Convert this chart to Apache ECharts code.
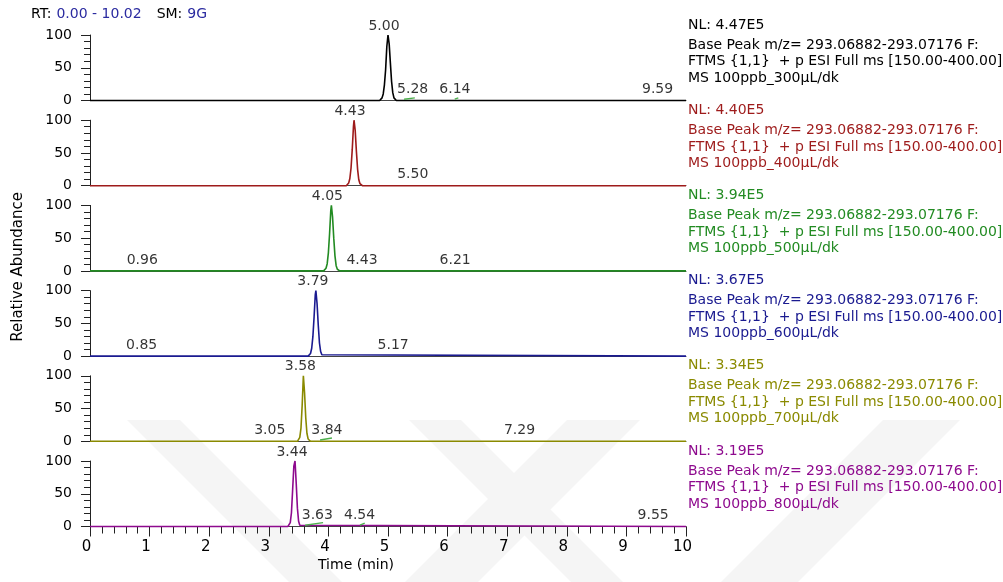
<!DOCTYPE html>
<html>
<head>
<meta charset="utf-8">
<script src="https://cdn.jsdelivr.net/npm/echarts@6/dist/echarts.min.js"></script>
<style>
  html, body { margin: 0; padding: 0; background: #ffffff; }
  #chart { width: 1003px; height: 582px; }
</style>
</head>
<body>
<div id="chart"></div>
<script>
// ---- chromatogram data: retention time (min) vs relative abundance (%) ----
const sampleNames = [
  'MS 100ppb_300µL/dk', 'MS 100ppb_400µL/dk', 'MS 100ppb_500µL/dk',
  'MS 100ppb_600µL/dk', 'MS 100ppb_700µL/dk', 'MS 100ppb_800µL/dk'
];
const nlValues = ['4.47E5', '4.40E5', '3.94E5', '3.67E5', '3.34E5', '3.19E5'];
const filterLines = [
  'Base Peak m/z= 293.06882-293.07176 F:',
  'FTMS {1,1}  + p ESI Full ms [150.00-400.00]'
];
const apexRT = [5.00, 4.43, 4.05, 3.79, 3.58, 3.44];
const minorRT = [
  [5.28, 6.14, 9.59],
  [5.50],
  [0.96, 4.43, 6.21],
  [0.85, 5.17],
  [3.05, 3.84, 7.29],
  [3.63, 4.54, 9.55]
];
const timeTicks = [0, 1, 2, 3, 4, 5, 6, 7, 8, 9, 10];
const abundanceTicks = [0, 50, 100];

const trace300 = [
  [0, 0], [4.86, 0], [4.88, 1], [4.90, 4], [4.92, 10], [4.94, 24], [4.96, 47],
  [4.98, 82], [5.00, 100], [5.02, 86], [5.04, 57], [5.06, 29], [5.08, 12],
  [5.10, 4], [5.12, 1.5], [5.14, 0], [10, 0]
];
const trace400 = [
  [0, 0], [4.30, 0], [4.32, 1], [4.34, 4], [4.36, 11], [4.38, 27], [4.40, 55],
  [4.42, 90], [4.43, 100], [4.45, 84], [4.47, 52], [4.49, 25], [4.51, 9],
  [4.53, 3], [4.55, 1], [4.57, 0], [10, 0]
];
const trace500 = [
  [0, 0], [3.92, 0], [3.94, 1], [3.96, 4], [3.98, 11], [4.00, 28], [4.02, 57],
  [4.04, 92], [4.05, 100], [4.07, 82], [4.09, 50], [4.11, 23], [4.13, 8],
  [4.15, 2.5], [4.17, 1], [4.19, 0], [10, 0]
];
const trace600 = [
  [0, 0], [3.66, 0], [3.68, 1], [3.70, 4], [3.72, 12], [3.74, 30], [3.76, 60],
  [3.78, 94], [3.79, 100], [3.81, 80], [3.83, 47], [3.85, 20], [3.87, 7],
  [3.89, 2], [3.91, 0], [10, 0]
];
const trace700 = [
  [0, 0], [3.48, 0], [3.50, 1.5], [3.52, 6], [3.54, 20], [3.56, 55],
  [3.58, 100], [3.60, 74], [3.62, 36], [3.64, 12], [3.66, 3.5], [3.68, 1],
  [3.70, 0], [10, 0]
];
const trace800 = [
  [0, 0], [3.32, 0], [3.34, 1.5], [3.36, 6], [3.38, 21], [3.40, 56],
  [3.42, 92], [3.44, 100], [3.46, 66], [3.48, 28], [3.50, 8], [3.52, 2],
  [3.54, 0], [10, 0]
];
const traces = [trace300, trace400, trace500, trace600, trace700, trace800];

// small secondary traces drawn in green near the baseline
const sideTraces = [
  [[[5.27, 2], [5.45, 4]], [[6.12, 2], [6.18, 4]]],
  [],
  [],
  [],
  [[[3.86, 2], [4.06, 5]]],
  [[[3.61, 2], [3.91, 6]], [[4.53, 2], [4.61, 5]]]
];

// ---- styling ----
const traceColors = ['#000000', '#9e1b1b', '#228b22', '#1a1a90', '#8a8a00', '#8e0a8e'];
const sideColor = '#4cb04c';
const FONT = 'DejaVu Sans';
const plotLeft = 90, plotWidth = 596, firstTop = 35, panelStep = 85.2, panelHeight = 65.5;
const apexShift = [-4, -4, -4, -3, -3, -3];
const minorShift = [[8, -1, -4], [-5], [-5, 8, -5], [1, -5], [-2, 8, -5], [11, -1, -6]];

const chart = echarts.init(document.getElementById('chart'), null, { renderer: 'canvas' });

const grids = [], xAxes = [], yAxes = [], series = [], graphics = [];

// faint diagonal background bands behind the lower panels
const bandFill = '#f5f5f5';
[
  [[127, 420], [180, 420], [342, 582], [289, 582]],
  [[409, 420], [461, 420], [623, 582], [571, 582]],
  [[567, 420], [640, 420], [478, 582], [405, 582]],
  [[883, 420], [960, 420], [798, 582], [721, 582]]
].forEach(pts => {
  graphics.push({ type: 'polygon', silent: true, z: -10, shape: { points: pts }, style: { fill: bandFill } });
});

traces.forEach((trace, i) => {
  const top = firstTop + i * panelStep;
  const last = i === traces.length - 1;
  const color = traceColors[i];
  grids.push({ left: plotLeft, width: plotWidth, top: top, height: panelHeight });

  xAxes.push({
    gridIndex: i, type: 'value', min: timeTicks[0], max: timeTicks[timeTicks.length - 1], interval: 1,
    axisLine: { show: true, onZero: false, lineStyle: { color: '#444', width: 1 } },
    axisTick: { show: last, length: 10, lineStyle: { color: '#222' } },
    minorTick: { show: last, splitNumber: 5, length: 7, lineStyle: { color: '#222' } },
    axisLabel: { show: last, margin: 13, color: '#000', fontFamily: FONT, fontSize: 15, padding: [0, 7, 0, 0] },
    splitLine: { show: false }
  });

  yAxes.push({
    gridIndex: i, type: 'value', min: abundanceTicks[0], max: abundanceTicks[abundanceTicks.length - 1], interval: 50,
    axisLine: { show: true, lineStyle: { color: '#222', width: 1 } },
    axisTick: { show: true, length: 9, lineStyle: { color: '#222' } },
    minorTick: { show: true, splitNumber: 5, length: 6, lineStyle: { color: '#222' } },
    axisLabel: { margin: 18, color: '#000', fontFamily: FONT, fontSize: 14 },
    splitLine: { show: false }
  });

  series.push({
    type: 'line', xAxisIndex: i, yAxisIndex: i, data: trace, showSymbol: false,
    lineStyle: { color: color, width: 1.6 }, z: 5, silent: true, clip: false
  });

  sideTraces[i].forEach(seg => {
    series.push({
      type: 'line', xAxisIndex: i, yAxisIndex: i, data: seg, showSymbol: false,
      lineStyle: { color: sideColor, width: 1.4 }, z: 6, silent: true
    });
  });

  // retention-time labels
  const labelData = [{
    value: [apexRT[i], 100],
    label: { offset: [apexShift[i], 0], distance: 2 }
  }];
  minorRT[i].forEach((rt, k) => {
    labelData.push({ value: [rt, 0], label: { offset: [minorShift[i][k], 0], distance: 4 } });
  });
  series.push({
    type: 'scatter', xAxisIndex: i, yAxisIndex: i, data: labelData, symbolSize: 0, z: 7, silent: true,
    label: {
      show: true, position: 'top', color: '#000', fontFamily: FONT, fontSize: 14,
      formatter: p => p.value[0].toFixed(2)
    }
  });

  // header block to the right of each trace
  const textX = 688;
  const lines = ['NL: ' + nlValues[i], filterLines[0], filterLines[1], sampleNames[i]];
  const offsets = [-9, 11, 27.7, 44];
  lines.forEach((t, k) => {
    graphics.push({
      type: 'text', left: textX, top: top + offsets[k] - 8, silent: true,
      style: { text: t, fill: color, fontFamily: FONT, fontSize: 14 }
    });
  });
});

graphics.push({
  type: 'text', silent: true, left: 11, top: 192, rotation: Math.PI / 2,
  style: { text: 'Relative Abundance', fill: '#000', fontFamily: FONT, fontSize: 15 }
});
graphics.push({
  type: 'text', silent: true, left: 318, top: 558,
  style: { text: 'Time (min)', fill: '#000', fontFamily: FONT, fontSize: 14 }
});

chart.setOption({
  animation: false,
  backgroundColor: '#ffffff',
  title: {
    left: 26, top: 0,
    text: '{k|RT:} {v|0.00 - 10.02}   {k|SM:} {v|9G}',
    textStyle: {
      rich: {
        k: { color: '#000', fontFamily: FONT, fontSize: 14, fontWeight: 'normal' },
        v: { color: '#2b2ba0', fontFamily: FONT, fontSize: 14, fontWeight: 'normal' }
      }
    }
  },
  grid: grids,
  xAxis: xAxes,
  yAxis: yAxes,
  series: series,
  graphic: graphics
});
</script>
</body>
</html>
